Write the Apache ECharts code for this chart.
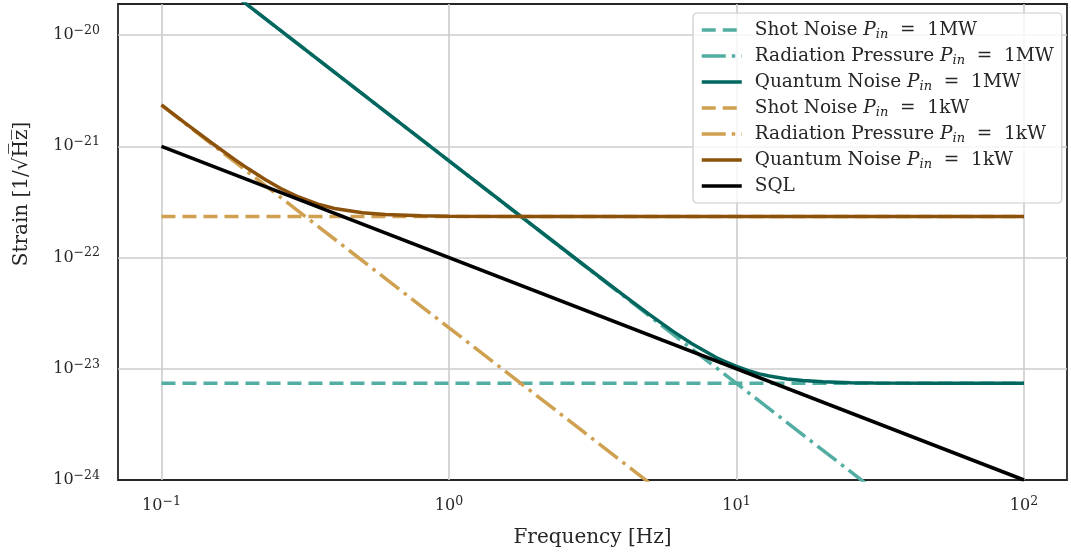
<!DOCTYPE html>
<html>
<head>
<meta charset="utf-8">
<script src="https://cdn.jsdelivr.net/npm/echarts@6/dist/echarts.min.js"></script>
<style>
  html, body { margin: 0; padding: 0; background: #fff; }
  #chart { width: 1071px; height: 557px; }
</style>
</head>
<body>
<div id="chart"></div>
<script>
// frequency in Hz; strain in units of 1e-24 / sqrt(Hz)
const STRAIN_EXP = -24

const flatFreq = [0.1, 100]
const shot1MW = [7.4, 7.4]
const shot1kW = [234, 234]

const rad1MWFreq = [0.1, 30]
const rad1MW = [74000, 0.82]
const rad1kWFreq = [0.1, 5]
const rad1kW = [2340, 0.935]

const quant1MWFreq = [0.1, 1, 3, 4, 5, 6, 7, 8.5, 9, 10, 11, 12, 13, 15, 17, 20, 25, 30, 50, 100]
const quant1MW = [74000, 740, 82.6, 46.8, 30.5, 21.8, 16.8, 12.6, 11.76,
  10.5, 9.6, 9.0, 8.6, 8.1, 7.83, 7.63, 7.49, 7.45, 7.41, 7.4]

const quant1kWFreq = [0.1, 0.12, 0.15, 0.18, 0.2, 0.23, 0.26, 0.3, 0.35, 0.4, 0.5, 0.6, 0.8, 1, 2, 100]
const quant1kW = [2350, 1640, 1065, 758, 630, 500, 417, 350, 302,
  276, 252, 243, 237, 235, 234, 234]

const sqlFreq = [0.1, 100]
const sql = [1000, 1]

const names = [
  'Shot Noise 1MW', 'Radiation Pressure 1MW', 'Quantum Noise 1MW',
  'Shot Noise 1kW', 'Radiation Pressure 1kW', 'Quantum Noise 1kW', 'SQL'
]

const FONT = 'DejaVu Serif'
const TEXT = '#262626'
const DASH = [14, 7]
const DASHDOT = [24, 6, 3.5, 6]

const pairs = (xs, ys) => xs.map((x, i) => [x, ys[i]])

// 10^n labels, blank for the off-decade axis ends
const powLabel = (shift) => (v) => {
  const e = Math.log10(v)
  const r = Math.round(e)
  if (Math.abs(e - r) > 1e-6) return ''
  return '{b|10}{s|' + String(r + shift).replace('-', '\u2212') + '}'
}
const powRich = {
  b: { fontFamily: FONT, fontSize: 16, color: TEXT, lineHeight: 22, verticalAlign: 'middle' },
  s: { fontFamily: FONT, fontSize: 12.5, color: TEXT, lineHeight: 11, verticalAlign: 'top' }
}

const legendLabel = (name) => {
  if (name === 'SQL') return 'SQL'
  const parts = name.split(' ')
  const power = parts.pop()
  return parts.join(' ') + ' {i|P}{sub|in}{t|  =  ' + power + '}'
}

const line = (name, data, color, type) => ({
  name,
  type: 'line',
  data,
  showSymbol: false,
  symbol: 'none',
  clip: true,
  lineStyle: { color, type, width: 3.5 },
  itemStyle: { color },
  emphasis: { disabled: true },
  animation: false
})

const gridLine = {
  show: true,
  showMinLine: false,
  showMaxLine: false,
  lineStyle: { color: '#cccccc', width: 1.6 }
}

const chart = echarts.init(document.getElementById('chart'))
chart.setOption({
  backgroundColor: '#fff',
  animation: false,
  grid: {
    left: 118, right: 4, top: 4, bottom: 77,
    show: true, borderColor: TEXT, borderWidth: 1.8, backgroundColor: 'transparent'
  },
  xAxis: {
    type: 'log',
    logBase: 10,
    min: 0.0706,
    max: 141.1,
    name: 'Frequency [Hz]',
    nameLocation: 'middle',
    nameGap: 48,
    nameTextStyle: { fontFamily: FONT, fontSize: 20, color: TEXT },
    axisLine: { show: false },
    axisTick: { show: false },
    minorTick: { show: false },
    axisLabel: { formatter: powLabel(0), rich: powRich, margin: 15 },
    splitLine: gridLine
  },
  yAxis: {
    type: 'log',
    logBase: 10,
    min: 1,
    max: 19000,
    name: 'Strain [1/\u221AH\u0305z\u0305]',
    nameLocation: 'middle',
    nameGap: 86,
    nameRotate: 90,
    nameTextStyle: { fontFamily: FONT, fontSize: 20, color: TEXT, padding: [0, 0, 0, 96] },
    axisLine: { show: false },
    axisTick: { show: false },
    minorTick: { show: false },
    axisLabel: { formatter: powLabel(STRAIN_EXP), rich: powRich, margin: 18 },
    splitLine: gridLine
  },
  legend: {
    orient: 'vertical',
    left: 693,
    top: 13,
    padding: [6, 8, 6, 7],
    itemWidth: 40,
    itemHeight: 12,
    itemGap: 4,
    backgroundColor: 'rgba(255,255,255,0.8)',
    borderColor: '#cccccc',
    borderWidth: 1.2,
    borderRadius: 4,
    data: names,
    formatter: legendLabel,
    itemStyle: { color: 'rgba(0,0,0,0)', borderWidth: 0 },
    lineStyle: { width: 3.5 },
    textStyle: {
      fontFamily: FONT, fontSize: 18.5, color: TEXT, lineHeight: 22, padding: [0, 0, 0, 8],
      rich: {
        i: { fontFamily: FONT, fontSize: 18.5, fontStyle: 'italic', color: TEXT, lineHeight: 22, verticalAlign: 'middle' },
        sub: { fontFamily: FONT, fontSize: 13, fontStyle: 'italic', color: TEXT, lineHeight: 10, verticalAlign: 'bottom' },
        t: { fontFamily: FONT, fontSize: 18.5, color: TEXT, lineHeight: 22, verticalAlign: 'middle' }
      }
    }
  },
  series: [
    line(names[0], pairs(flatFreq, shot1MW), '#52aea3', DASH),
    line(names[1], pairs(rad1MWFreq, rad1MW), '#52aea3', DASHDOT),
    line(names[2], pairs(quant1MWFreq, quant1MW), '#01665e', 'solid'),
    line(names[3], pairs(flatFreq, shot1kW), '#cfa050', DASH),
    line(names[4], pairs(rad1kWFreq, rad1kW), '#cfa050', DASHDOT),
    line(names[5], pairs(quant1kWFreq, quant1kW), '#8c510a', 'solid'),
    line(names[6], pairs(sqlFreq, sql), '#000000', 'solid')
  ]
})
</script>
</body>
</html>
